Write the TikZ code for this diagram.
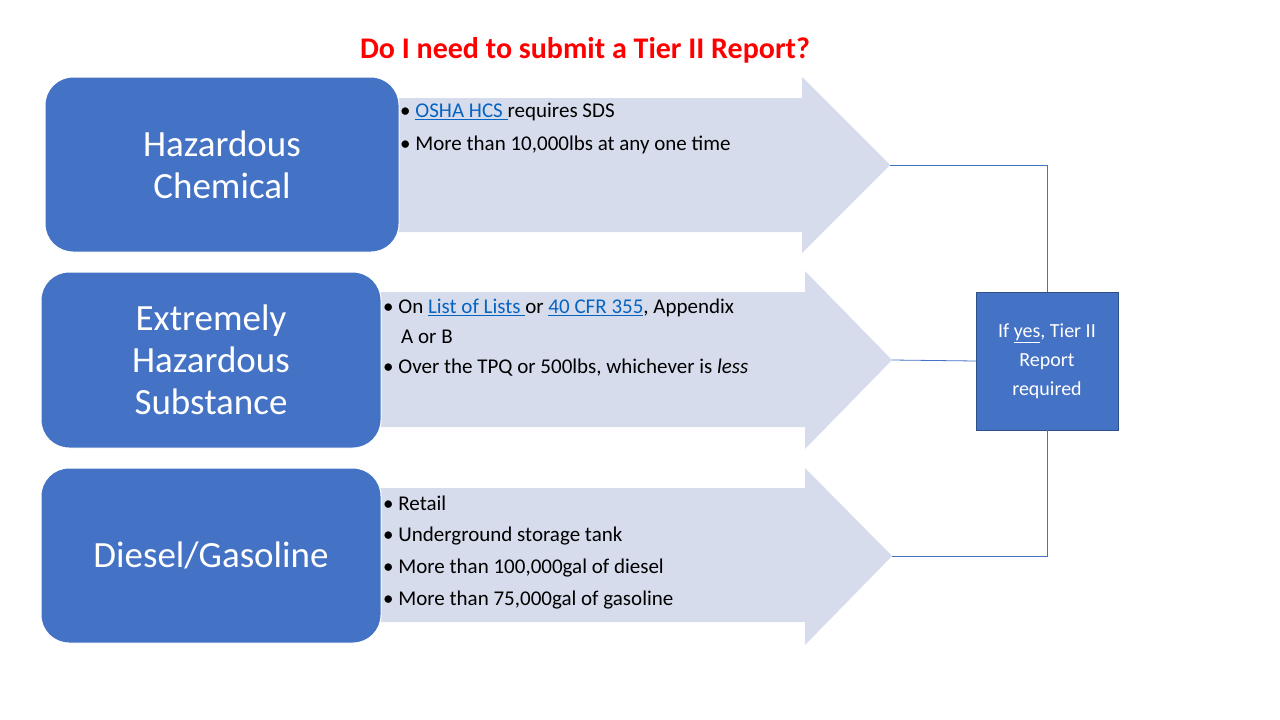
\documentclass[tikz,border=0pt]{standalone}
\usepackage{fontspec}
\setmainfont{Carlito}
\definecolor{blu}{HTML}{4472C4}
\definecolor{arr}{HTML}{D6DCEC}
\definecolor{lnk}{HTML}{0563C1}
\newcommand{\lk}[1]{\textcolor{lnk}{\underline{#1}}}
\begin{document}
\begin{tikzpicture}[x=1pt,y=-1pt,
  cat/.style={fill=blu,rounded corners=28pt,draw=white,line width=1pt},
  cattxt/.style={text=white,font=\fontsize{37}{42}\selectfont,align=center},
  bul/.style={anchor=west,font=\fontsize{21}{25}\selectfont,inner sep=0pt,align=left},
  bigarrow/.style={fill=arr,draw=none},
  con/.style={draw=blu,line width=0.8pt}]
\useasboundingbox (0,0) rectangle (1280,720);
\node[text=red,font=\bfseries\fontsize{30}{34}\selectfont] (title) at (585,50) {Do I need to submit a Tier II Report?};
% arrows
\fill[arr] (395,98) -- (802,98) -- (802,77) -- (890,165) -- (802,253) -- (802,232) -- (395,232) -- cycle;
\coordinate (t1) at (890,165);
\fill[arr] (378,292) -- (805,292) -- (805,271) -- (892,360) -- (805,449) -- (805,427) -- (378,427) -- cycle;
\coordinate (t2) at (892,360);
\fill[arr] (378,488) -- (805,488) -- (805,468) -- (892,556) -- (805,645) -- (805,622) -- (378,622) -- cycle;
\coordinate (t3) at (892,556);
% category boxes
\filldraw[cat] (45,77) rectangle (399,252);
\node[cattxt] (c1) at (222,165) {Hazardous\\Chemical};
\filldraw[cat] (41,272) rectangle (381,448);
\node[cattxt] (c2) at (211,360) {Extremely\\Hazardous\\Substance};
\filldraw[cat] (41,468) rectangle (381,643);
\node[cattxt] (c3) at (211,555) {Diesel/Gasoline};
% bullets
\node[bul] (b11) at (400,112) {• \lk{OSHA HCS }requires SDS};
\node[bul] (b12) at (400,145) {• More than 10,000lbs at any one time};
\node[bul] (b21) at (383,308) {• On \lk{List of Lists }or \lk{40 CFR 355}, Appendix};
\node[bul] (b22) at (401,337) {A or B};
\node[bul] (b23) at (383,368) {• Over the TPQ or 500lbs, whichever is \textit{less}};
\node[bul] (b31) at (383,503) {• Retail};
\node[bul] (b32) at (383,536) {• Underground storage tank};
\node[bul] (b33) at (383,568) {• More than 100,000gal of diesel};
\node[bul] (b34) at (383,600) {• More than 75,000gal of gasoline};
% result box
\node[fill=blu,draw=blu!70!black,minimum width=142pt,minimum height=138pt,text=white,align=center,font=\fontsize{20}{29}\selectfont,inner sep=0pt] (res) at (1047,361) {If \underline{yes}, Tier II\\Report\\required};
\draw[con] (t1) -- (1047,165) -- (res.north);
\draw[con] (t2) -- (res.west);
\draw[con] (t3) -- (1047,556) -- (res.south);
\end{tikzpicture}
\end{document}
